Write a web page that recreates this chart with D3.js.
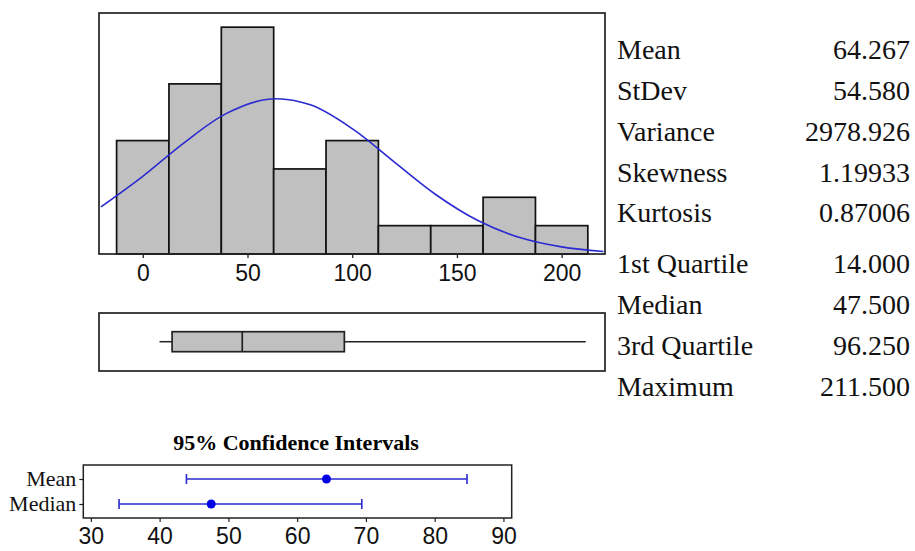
<!DOCTYPE html>
<html>
<head>
<meta charset="utf-8">
<script src="https://cdn.jsdelivr.net/npm/d3@7"></script>
<style>
  body { margin: 0; background: #fff; }
  svg { display: block; }
</style>
</head>
<body>
<div id="chart"></div>
<script>
// Data
const binCenters = [0, 25, 50, 75, 100, 125, 150, 175, 200];
const binCounts = [4, 6, 8, 3, 4, 1, 1, 2, 1];
const binWidth = 25;
const histTicks = [0, 50, 100, 150, 200];

// fitted normal curve
const curveX = [-20, 0, 20, 40, 60, 80, 100, 120, 140, 160, 180, 200, 220];
const curveY = [1.66, 2.74, 3.94, 4.96, 5.46, 5.26, 4.42, 3.25, 2.09, 1.18, 0.58, 0.25, 0.09];

const boxMin = 8, boxQ1 = 14, boxMedian = 47.5, boxQ3 = 96.25, boxMax = 211.5;

const ciLabels = ["Mean", "Median"];
const ciCenter = [64.267, 47.5];
const ciLow = [43.9, 34.1];
const ciHigh = [84.7, 69.4];
const ciTicks = [30, 40, 50, 60, 70, 80, 90];

const statLabels = ["Mean", "StDev", "Variance", "Skewness", "Kurtosis", "1st Quartile", "Median", "3rd Quartile", "Maximum"];
const statValues = ["64.267", "54.580", "2978.926", "1.19933", "0.87006", "14.000", "47.500", "96.250", "211.500"];

const W = 915, H = 551;
const serif = "'Liberation Serif', 'Times New Roman', serif";
const sans = "'Liberation Sans', Arial, sans-serif";
const grey = "#c0c0c0";
const blue = "#2a2ad0";

let svg = d3.select("#chart").append("svg")
    .attr("width", W)
    .attr("height", H);

// HISTOGRAM________________________________________________
const hist = {left: 99, right: 605, top: 13, bottom: 254};

let x = d3.scaleLinear()
    .domain([-20.9, 220.7])
    .range([hist.left, hist.right]);
let y = d3.scaleLinear()
    .domain([0, 8.5])
    .range([hist.bottom, hist.top]);

svg.append("defs").append("clipPath")
    .attr("id", "histClip")
    .append("rect")
    .attr("x", hist.left)
    .attr("y", hist.top)
    .attr("width", hist.right - hist.left)
    .attr("height", hist.bottom - hist.top);

svg.append("g").selectAll("rect")
    .data(binCenters)
    .enter()
    .append("rect")
    .attr("x", d => x(d - binWidth / 2))
    .attr("y", (d, i) => y(binCounts[i]))
    .attr("width", d => x(d + binWidth / 2) - x(d - binWidth / 2))
    .attr("height", (d, i) => y(0) - y(binCounts[i]))
    .attr("fill", grey)
    .attr("stroke", "#111")
    .attr("stroke-width", 1.7);

let line = d3.line()
    .x(d => x(d[0]))
    .y(d => y(d[1]))
    .curve(d3.curveCatmullRom);

svg.append("path")
    .datum(curveX.map((v, i) => [v, curveY[i]]))
    .attr("clip-path", "url(#histClip)")
    .attr("d", line)
    .attr("fill", "none")
    .attr("stroke", blue)
    .attr("stroke-width", 1.6);

svg.append("rect")
    .attr("x", hist.left)
    .attr("y", hist.top)
    .attr("width", hist.right - hist.left)
    .attr("height", hist.bottom - hist.top)
    .attr("fill", "none")
    .attr("stroke", "#222")
    .attr("stroke-width", 1.7);

let xAxis = svg.append("g")
    .attr("transform", `translate(0, ${hist.bottom})`)
    .call(d3.axisBottom(x).tickValues(histTicks).tickSize(4).tickPadding(7));
xAxis.select(".domain").remove();
xAxis.selectAll("line").attr("stroke", "#222").attr("stroke-width", 1.3);
xAxis.selectAll("text")
    .attr("fill", "#111")
    .style("font-family", sans)
    .style("font-size", "23px");

// BOXPLOT__________________________________________________
const box = {top: 313, bottom: 371};
const boxMid = 341.7, boxHalf = 10;

svg.append("rect")
    .attr("x", hist.left)
    .attr("y", box.top)
    .attr("width", hist.right - hist.left)
    .attr("height", box.bottom - box.top)
    .attr("fill", "none")
    .attr("stroke", "#222")
    .attr("stroke-width", 1.7);

svg.append("line")
    .attr("x1", x(boxMin)).attr("x2", x(boxQ1))
    .attr("y1", boxMid).attr("y2", boxMid)
    .attr("stroke", "#222").attr("stroke-width", 1.5);
svg.append("line")
    .attr("x1", x(boxQ3)).attr("x2", x(boxMax))
    .attr("y1", boxMid).attr("y2", boxMid)
    .attr("stroke", "#222").attr("stroke-width", 1.5);
svg.append("rect")
    .attr("x", x(boxQ1))
    .attr("y", boxMid - boxHalf)
    .attr("width", x(boxQ3) - x(boxQ1))
    .attr("height", boxHalf * 2)
    .attr("fill", grey)
    .attr("stroke", "#222")
    .attr("stroke-width", 1.7);
svg.append("line")
    .attr("x1", x(boxMedian)).attr("x2", x(boxMedian))
    .attr("y1", boxMid - boxHalf).attr("y2", boxMid + boxHalf)
    .attr("stroke", "#222").attr("stroke-width", 1.7);

// CONFIDENCE INTERVALS_____________________________________
const ci = {left: 83.3, right: 511.7, top: 465, bottom: 518};

let xc = d3.scaleLinear()
    .domain([28.9, 91.2])
    .range([ci.left, ci.right]);
let yc = d3.scalePoint()
    .domain(ciLabels)
    .range([479, 504]);

svg.append("text")
    .attr("x", 296)
    .attr("y", 450)
    .attr("text-anchor", "middle")
    .style("font-family", serif)
    .style("font-size", "22px")
    .style("font-weight", "bold")
    .text("95% Confidence Intervals");

svg.append("rect")
    .attr("x", ci.left)
    .attr("y", ci.top)
    .attr("width", ci.right - ci.left)
    .attr("height", ci.bottom - ci.top)
    .attr("fill", "none")
    .attr("stroke", "#222")
    .attr("stroke-width", 1.5);

let ciAxis = svg.append("g")
    .attr("transform", `translate(0, ${ci.bottom})`)
    .call(d3.axisBottom(xc).tickValues(ciTicks).tickSize(4).tickPadding(6));
ciAxis.select(".domain").remove();
ciAxis.selectAll("line").attr("stroke", "#222").attr("stroke-width", 1.2);
ciAxis.selectAll("text")
    .attr("fill", "#111")
    .style("font-family", sans)
    .style("font-size", "23px");

let ciYAxis = svg.append("g")
    .attr("transform", `translate(${ci.left}, 0)`)
    .call(d3.axisLeft(yc).tickSize(4).tickPadding(3));
ciYAxis.select(".domain").remove();
ciYAxis.selectAll("line").attr("stroke", "#222").attr("stroke-width", 1.2);
ciYAxis.selectAll("text")
    .attr("fill", "#111")
    .attr("dy", "0.3em")
    .style("font-family", serif)
    .style("font-size", "22px");

let ciRows = svg.append("g").selectAll("g")
    .data(ciLabels)
    .enter()
    .append("g");

ciRows.append("line")
    .attr("x1", (d, i) => xc(ciLow[i]))
    .attr("x2", (d, i) => xc(ciHigh[i]))
    .attr("y1", d => yc(d)).attr("y2", d => yc(d))
    .attr("stroke", blue).attr("stroke-width", 1.6);
ciRows.append("line")
    .attr("x1", (d, i) => xc(ciLow[i]))
    .attr("x2", (d, i) => xc(ciLow[i]))
    .attr("y1", d => yc(d) - 5).attr("y2", d => yc(d) + 5)
    .attr("stroke", blue).attr("stroke-width", 1.6);
ciRows.append("line")
    .attr("x1", (d, i) => xc(ciHigh[i]))
    .attr("x2", (d, i) => xc(ciHigh[i]))
    .attr("y1", d => yc(d) - 5).attr("y2", d => yc(d) + 5)
    .attr("stroke", blue).attr("stroke-width", 1.6);
ciRows.append("circle")
    .attr("cx", (d, i) => xc(ciCenter[i]))
    .attr("cy", d => yc(d))
    .attr("r", 4.5)
    .attr("fill", "#0000e8");

// STATS TABLE______________________________________________
const statBaselines = [59, 100, 141, 182, 222, 273, 314, 355, 396];

let stats = svg.append("g")
    .style("font-family", serif)
    .style("font-size", "28px")
    .attr("fill", "#111");

stats.selectAll(".lab")
    .data(statLabels)
    .enter()
    .append("text")
    .attr("class", "lab")
    .attr("x", 617)
    .attr("y", (d, i) => statBaselines[i])
    .text(d => d);

stats.selectAll(".val")
    .data(statValues)
    .enter()
    .append("text")
    .attr("class", "val")
    .attr("x", 910)
    .attr("y", (d, i) => statBaselines[i])
    .attr("text-anchor", "end")
    .text(d => d);
</script>
</body>
</html>
